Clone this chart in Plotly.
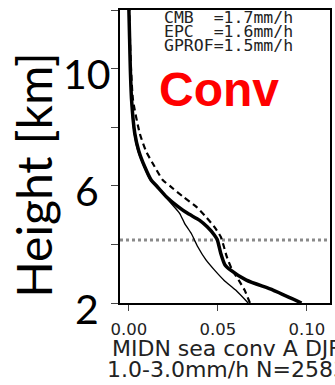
import plotly.graph_objects as go

cmb_height = [2.0, 2.44, 2.78, 3.13, 3.30, 3.70, 4.15, 4.32, 4.60, 4.83, 5.06, 5.29, 5.63, 6.0, 6.2, 6.65, 7.2, 7.79, 8.93, 10.0, 11.0, 12.0]
cmb = [0.097, 0.081, 0.066, 0.057, 0.054, 0.0516, 0.0497, 0.048, 0.044, 0.0396, 0.033, 0.0276, 0.021, 0.0155, 0.0125, 0.0089, 0.0055, 0.0033, 0.0015, 0.0008, 0.0004, 0.0]
epc_height = [2.0, 2.44, 2.78, 3.13, 3.58, 3.92, 4.26, 4.60, 4.94, 5.29, 5.63, 5.97, 6.2, 6.65, 7.2, 7.79, 8.93, 10.0, 11.0, 12.0]
epc = [0.068, 0.065, 0.0617, 0.058, 0.055, 0.0534, 0.0516, 0.048, 0.0433, 0.0378, 0.0304, 0.0235, 0.019, 0.0145, 0.0095, 0.0061, 0.0023, 0.0012, 0.0006, 0.0002]
gprof_height = [2.0, 2.44, 2.78, 3.13, 3.47, 3.92, 4.38, 4.72, 5.06, 5.52, 5.86, 6.2, 6.65, 7.2, 7.79, 8.93, 10.0, 11.0, 12.0]
gprof = [0.067, 0.060, 0.0534, 0.048, 0.0433, 0.0387, 0.035, 0.0313, 0.0285, 0.022, 0.0175, 0.012, 0.0085, 0.005, 0.003, 0.0013, 0.0007, 0.0003, 0.0]
freezing_level = 4.15
stats_text = ["CMB  =1.7mm/h", "EPC  =1.6mm/h", "GPROF=1.5mm/h"]
x_ticks = [0.0, 0.05, 0.10]
x_ticktext = ["0.00", "0.05", "0.10"]
y_ticks = [2, 4, 6, 8, 10, 12]
y_label_ticks = [2, 6, 10]
y_label_text = ["2", "6", "10"]
x_range = [-0.005, 0.113]
y_range = [2, 12]

fig = go.Figure()
fig.add_trace(go.Scatter(x=x_range, y=[freezing_level, freezing_level], mode="lines",
                         line=dict(color="#8a8a8a", width=3, dash="dot"), showlegend=False))
fig.add_trace(go.Scatter(x=gprof, y=gprof_height, mode="lines",
                         line=dict(color="black", width=1.4, shape="spline", smoothing=0.6), showlegend=False))
fig.add_trace(go.Scatter(x=epc, y=epc_height, mode="lines",
                         line=dict(color="black", width=2.2, dash="6px,4px", shape="spline", smoothing=0.6), showlegend=False))
fig.add_trace(go.Scatter(x=cmb, y=cmb_height, mode="lines",
                         line=dict(color="black", width=3.5, shape="spline", smoothing=0.6), showlegend=False))

L, R, T, B = 120, 3, 10, 82
W, H = 335, 385
pw, ph = W - L - R, H - T - B

def px_x(x):
    return (x - L) / pw

def px_y(y):
    return (H - B - y) / ph

annotations = []
for i, t in enumerate(stats_text):
    annotations.append(dict(x=px_x(162), y=px_y(18 + 13.5 * i), xref="paper", yref="paper",
                            text=t, showarrow=False, xanchor="left", yanchor="middle",
                            font=dict(family="DejaVu Sans Mono", size=16.5, color="#222")))
annotations.append(dict(x=px_x(157), y=px_y(89), xref="paper", yref="paper", text="<b>Conv</b>",
                        showarrow=False, xanchor="left", yanchor="middle",
                        font=dict(family="Liberation Sans", size=48, color="#ff0000")))
annotations.append(dict(x=px_x(110), y=px_y(348), xref="paper", yref="paper", text="MIDN sea conv A DJF",
                        showarrow=False, xanchor="left", yanchor="middle",
                        font=dict(family="DejaVu Sans", size=22, color="#222")))
annotations.append(dict(x=px_x(105), y=px_y(369), xref="paper", yref="paper", text="1.0-3.0mm/h N=2583",
                        showarrow=False, xanchor="left", yanchor="middle",
                        font=dict(family="DejaVu Sans", size=22, color="#222")))
annotations.append(dict(x=px_x(33), y=px_y(175), xref="paper", yref="paper", text="Height [km]",
                        showarrow=False, textangle=-90, xanchor="center", yanchor="middle",
                        font=dict(family="Lato", size=48, color="black")))
for v, t in zip(y_label_ticks, y_label_text):
    annotations.append(dict(x=px_x(87), y=v, xref="paper", yref="y", text=t, yshift=-5,
                            showarrow=False, xanchor="center", yanchor="middle",
                            font=dict(family="Lato", size=41, color="black")))

fig.update_layout(
    width=W, height=H, margin=dict(l=L, r=R, t=T, b=B),
    plot_bgcolor="white", paper_bgcolor="white",
    annotations=annotations,
    xaxis=dict(range=x_range, tickvals=x_ticks, ticktext=x_ticktext, ticks="outside", ticklen=6,
               tickwidth=1.2, showline=True, linecolor="black", linewidth=1.5, mirror=True,
               showgrid=False, zeroline=False, ticklabelstandoff=4,
               tickfont=dict(family="DejaVu Sans", size=16.5, color="#222")),
    yaxis=dict(range=y_range, tickvals=y_ticks, showticklabels=False, ticks="outside", ticklen=7,
               tickwidth=1.2, showline=True, linecolor="black", linewidth=1.5, mirror=True,
               showgrid=False, zeroline=False),
)
fig.write_html("out.html", config={"displayModeBar": False},
               post_script="document.body.style.margin='0';document.body.style.overflow='hidden';")
